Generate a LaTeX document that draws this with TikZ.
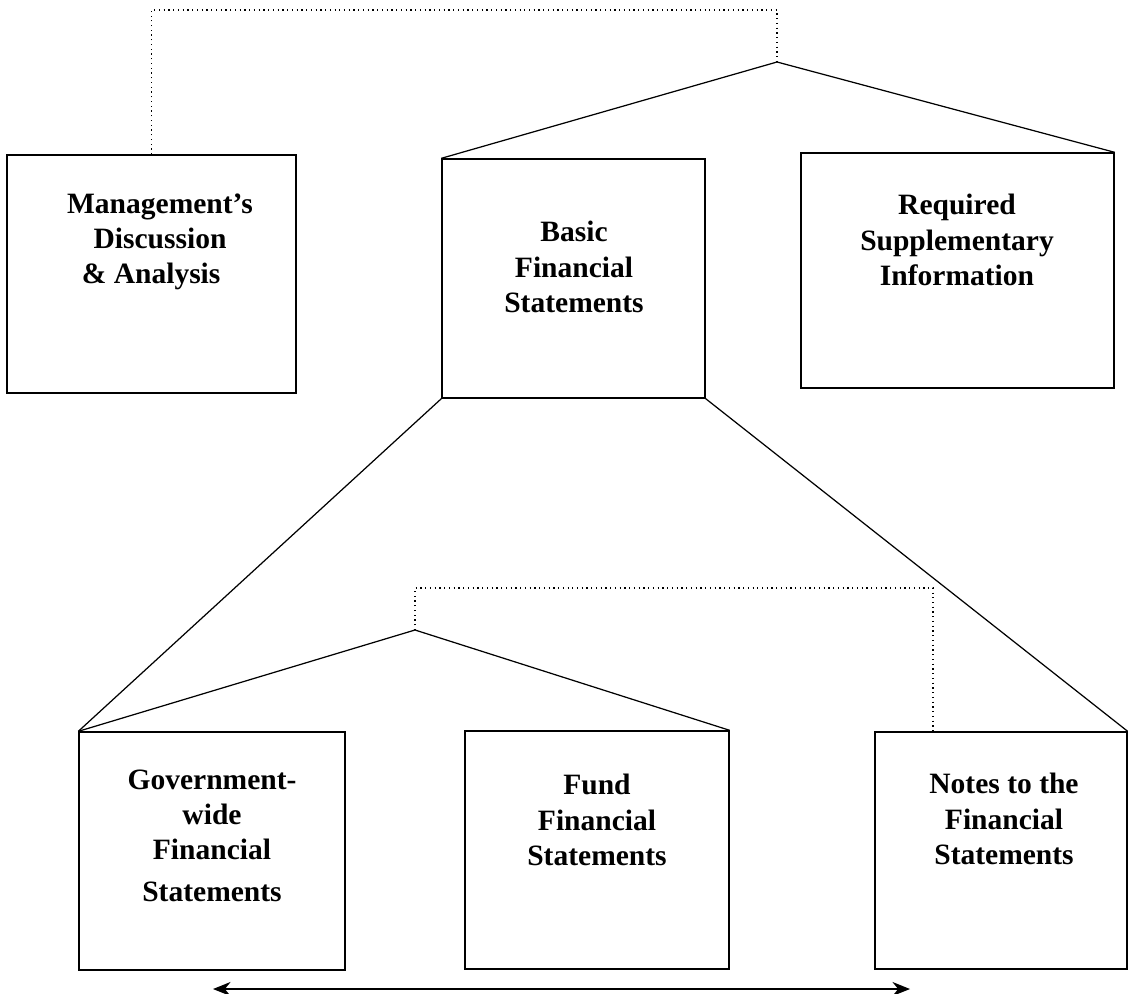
\documentclass[tikz,border=0pt]{standalone}
\usepackage{fontspec}
\setmainfont{Liberation Serif}
\usetikzlibrary{
  arrows.meta,  % Stealth heads on the bottom double arrow
  positioning   % relative placement
}

\begin{document}
\begin{tikzpicture}[x=0.02cm, y=-0.02cm, >=Stealth, % one unit = one pixel of the layout, y downward
  panel/.style={draw, line width=0.8pt, inner sep=0pt},            % the six report boxes
  caption/.style={font=\fontsize{16.8}{20}\selectfont\bfseries, align=center}, % bold box titles
  link/.style={line width=0.7pt},                                   % solid tree lines
  dotline/.style={line width=0.7pt, dotted}]                        % dotted side links

  \useasboundingbox (0,0) rectangle (1128,993); % keep the page at the reference proportions

  % ======= upper row =======
  \node[panel, minimum width=5.78cm, minimum height=4.76cm] (mda) at (151.5,274) {}; % left box
  \node[panel, minimum width=5.26cm, minimum height=4.78cm] (bfs) at (573.5,278.5) {}; % middle box
  \node[panel, minimum width=6.26cm, minimum height=4.70cm] (rsi) at (957.5,270.5) {}; % right box

  \node[caption] (mdatext) at (160,242) {Management’s\\ Discussion\hspace*{0.6em}\\ \& Analysis\hspace*{0.6em}};
  \node[caption] (bfstext) at (574,267) {Basic\\ Financial\\ Statements};
  \node[caption] (rsitext) at (957,240) {Required\\ Supplementary\\ Information};

  % ======= lower row =======
  \node[panel, minimum width=5.32cm, minimum height=4.76cm] (gw) at (212,851) {};      % government-wide
  \node[panel, minimum width=5.28cm, minimum height=4.76cm] (fund) at (597,850) {};    % fund statements
  \node[panel, minimum width=5.04cm, minimum height=4.74cm] (notes) at (1001,850.5) {}; % notes

  \node[caption] (gwtext) at (212,836) {Government-\\ wide\\ Financial\\[4pt] Statements};
  \node[caption] (fundtext) at (597,820) {Fund\\ Financial\\ Statements};
  \node[caption] (notestext) at (1004,819) {Notes to the\\ Financial\\ Statements};

  % ======= tree lines =======
  \coordinate (topapex) at (777,62);  % peak above the basic statements and the RSI
  \coordinate (topbend) at (777,10);  % corner of the dotted link to the MD&A
  \draw[link] (bfs.north west) -- (topapex) -- (rsi.north east);
  \draw[dotline] (mda.north) |- (topbend) -- (topapex);

  \draw[link] (bfs.south west) -- (gw.north west);     % basic statements fan out downward
  \draw[link] (bfs.south east) -- (notes.north east);

  \coordinate (lowapex) at (415,630); % peak above the two statement boxes
  \coordinate (lowbend) at (933,588); % corner of the dotted link to the notes
  \draw[link] (gw.north west) -- (lowapex) -- (fund.north east);
  \draw[dotline] (lowapex) |- (lowbend) -- (lowbend |- notes.north);

  % ======= bottom arrow =======
  \coordinate (arrleft) at (213,989);
  \coordinate (arrright) at (910,989);
  \draw[link, {Stealth[length=10pt,width=8pt]}-{Stealth[length=10pt,width=8pt]}] (arrleft) -- (arrright);

\end{tikzpicture}
\end{document}
